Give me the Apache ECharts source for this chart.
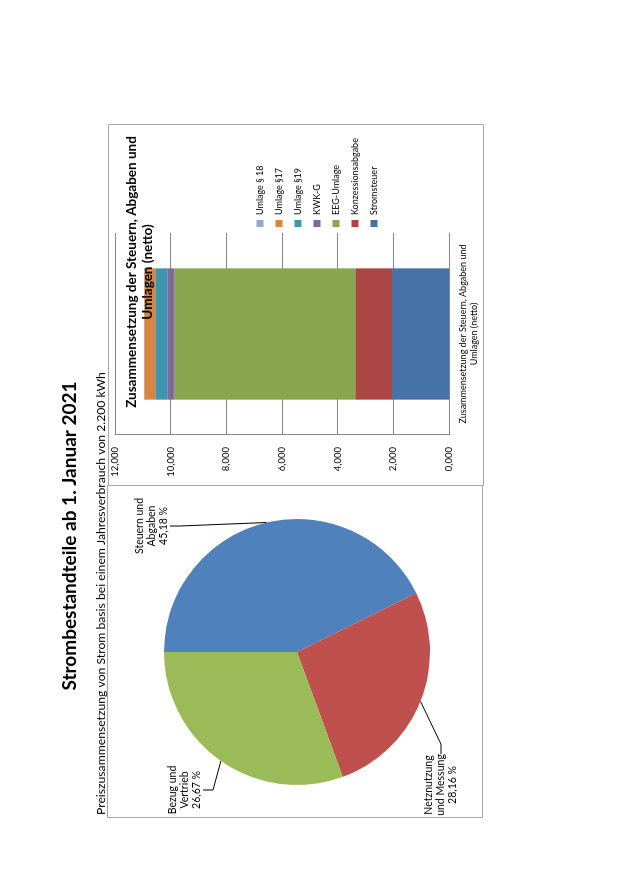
<!DOCTYPE html>
<html>
<head>
<meta charset="utf-8">
<script src="https://cdn.jsdelivr.net/npm/echarts@6/dist/echarts.min.js"></script>
<style>
  html, body { margin: 0; padding: 0; background: #fff; overflow: hidden; }
  /* page is printed in landscape and turned on its side */
  #page {
    position: absolute; left: 0; top: 0;
    width: 877px; height: 620px;
    transform-origin: 0 0;
    transform: translate(0, 877px) rotate(-90deg);
  }
</style>
</head>
<body>
<div id="page"></div>
<script>
// pie: slice sizes as drawn, and the percentages printed next to them
var pieNames = ['Steuern und\nAbgaben', 'Netznutzung\nund Messung', 'Bezug und\nVertrieb'];
var pieShares = [42.7, 26.7, 30.6];
var pieLabels = [45.18, 28.16, 26.67];
var pieColors = ['#4F81BD', '#C0504D', '#9BBB59'];

// stacked bar: ct/kWh, bottom to top
var barCategory = ['Zusammensetzung der Steuern, Abgaben und\nUmlagen (netto)'];
var barNames = ['Stromsteuer', 'Konzessionsabgabe', 'EEG-Umlage', 'KWK-G', 'Umlage §19', 'Umlage §17', 'Umlage § 18'];
var barValues = [2.05, 1.32, 6.50, 0.254, 0.432, 0.395, 0.009];
var barColors = ['#4572A7', '#AA4643', '#89A54E', '#80699B', '#3D96AE', '#DB843D', '#92A8CD'];

// where the pie labels sit (landscape page coords)
var pieLabelPos = [[351, 152], [92, 441], [87, 185]];

var font = 'Lato, "Noto Sans", sans-serif';

function deNum(v, d) {
  return v.toFixed(d).replace('.', ',');
}

var chart = echarts.init(document.getElementById('page'), null, {renderer: 'canvas'});

var barSeries = barNames.map(function (n, i) {
  return {
    name: n,
    type: 'bar',
    stack: 'sum',
    barWidth: '65%',
    itemStyle: {color: barColors[i]},
    data: [barValues[i]]
  };
});

var option = {
  backgroundColor: '#fff',
  animation: false,
  textStyle: {fontFamily: font},
  title: [
    {
      text: 'Strombestandteile ab 1. Januar 2021',
      left: 336, top: 55, textAlign: 'center',
      textStyle: {fontFamily: font, fontSize: 19, fontWeight: 'bold', color: '#000'}
    },
    {
      text: 'Preiszusammensetzung von Strom basis bei einem Jahresverbrauch von 2.200 kWh',
      left: 57, top: 90,
      textStyle: {fontFamily: font, fontSize: 12.2, fontWeight: 'normal', color: '#000'}
    },
    {
      text: 'Zusammensetzung der Steuern, Abgaben und\nUmlagen (netto)',
      left: 600, top: 119, textAlign: 'center',
      textStyle: {fontFamily: font, fontSize: 13.5, fontWeight: 'bold', color: '#000', lineHeight: 16}
    }
  ],
  graphic: [
    {type: 'rect', shape: {x: 59.5, y: 107.5, width: 332, height: 375}, style: {fill: null, stroke: '#a6a6a6', lineWidth: 1}, silent: true},
    {type: 'rect', shape: {x: 391.5, y: 108.5, width: 361, height: 375}, style: {fill: null, stroke: '#a6a6a6', lineWidth: 1}, silent: true}
  ],
  legend: {
    orient: 'vertical',
    left: 645, top: 249,
    itemWidth: 7, itemHeight: 7, itemGap: 7,
    icon: 'rect',
    data: barNames.slice().reverse(),
    textStyle: {fontFamily: font, fontSize: 9, color: '#000', lineHeight: 12}
  },
  grid: {left: 442, top: 115, width: 202, height: 334, containLabel: false},
  xAxis: {
    type: 'category',
    data: barCategory,
    axisLine: {lineStyle: {color: '#868686'}},
    axisTick: {show: false},
    axisLabel: {fontFamily: font, fontSize: 9, color: '#000', lineHeight: 11, margin: 9, interval: 0}
  },
  yAxis: {
    type: 'value',
    min: 0, max: 12, interval: 2,
    axisLine: {show: true, lineStyle: {color: '#868686'}},
    axisTick: {show: false},
    splitLine: {lineStyle: {color: '#868686'}},
    axisLabel: {
      fontFamily: font, fontSize: 9.5, color: '#000', margin: 12,
      formatter: function (v) { return deNum(v, 3); }
    }
  },
  series: barSeries.concat([
    {
      type: 'pie',
      center: [225, 297],
      radius: 133,
      startAngle: 90,
      clockwise: true,
      data: pieShares.map(function (v, i) {
        return {value: v, name: pieNames[i], itemStyle: {color: pieColors[i]}};
      }),
      label: {
        show: true,
        position: 'outside',
        fontFamily: font, fontSize: 10.5, color: '#000', lineHeight: 12,
        align: 'center',
        formatter: function (p) { return p.name + '\n' + deNum(pieLabels[p.dataIndex], 2) + ' %'; }
      },
      labelLine: {show: true, length: 10, length2: 10, lineStyle: {color: '#000', width: 1}},
      labelLayout: function (p) {
        var pos = pieLabelPos[p.dataIndex];
        return {x: pos[0], y: pos[1], align: 'center', verticalAlign: 'middle'};
      },
      emphasis: {disabled: true}
    }
  ])
};

chart.setOption(option);
</script>
</body>
</html>
